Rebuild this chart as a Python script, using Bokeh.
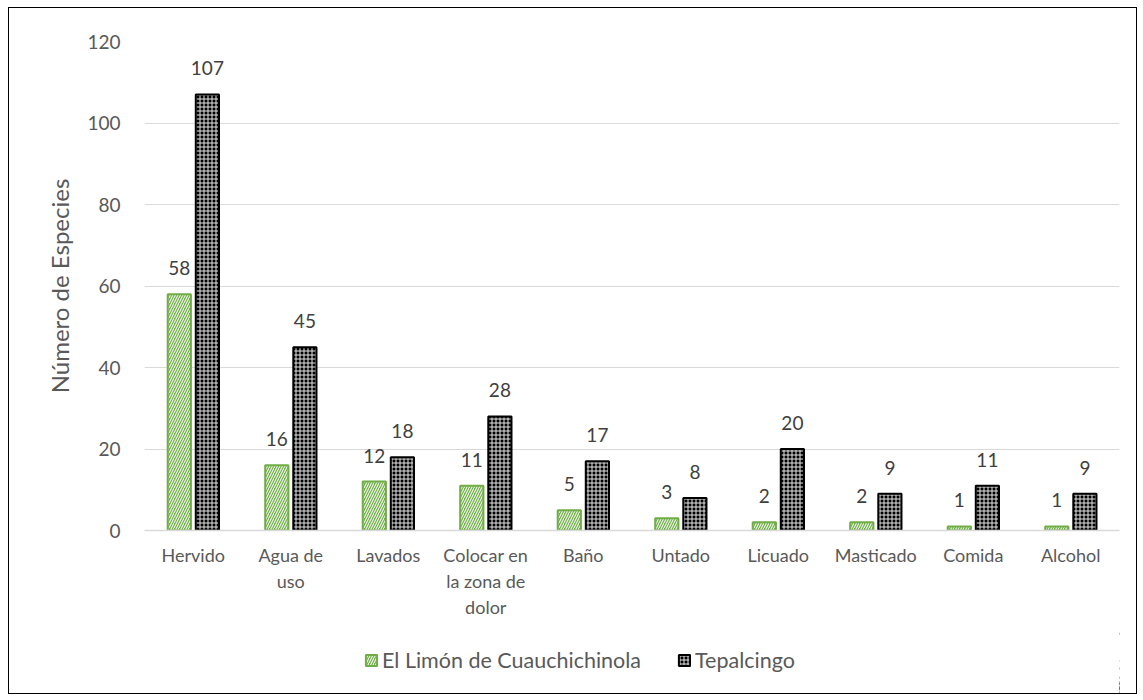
from bokeh.plotting import figure
from bokeh.models import ColumnDataSource, Legend, LegendItem, LabelSet, FactorRange, Range1d
from bokeh.layouts import column
from bokeh.core.properties import value
from bokeh.transform import dodge
from bokeh.embed import file_html
from bokeh.resources import INLINE

categories = ["Hervido", "Agua de\nuso", "Lavados", "Colocar en\nla zona de\ndolor", "Baño",
              "Untado", "Licuado", "Masticado", "Comida", "Alcohol"]
limon = [58, 16, 12, 11, 5, 3, 2, 2, 1, 1]
tepalcingo = [107, 45, 18, 28, 17, 8, 20, 9, 11, 9]
series_names = ["El Limón de Cuauchichinola", "Tepalcingo"]
y_ticks = [0, 20, 40, 60, 80, 100, 120]

FONT = "Lato"
GREEN = "#70AD47"
OFF_A, OFF_B, BW = -0.143, 0.145, 0.238

src = ColumnDataSource(dict(cat=categories, a=limon, b=tepalcingo,
                            la=[str(v) for v in limon], lb=[str(v) for v in tepalcingo]))

style_a = dict(fill_color=GREEN, line_color=GREEN, line_width=2,
               hatch_pattern="right_diagonal_line", hatch_color="white", hatch_alpha=0.85,
               hatch_scale=5, hatch_weight=1.2)
style_b = dict(fill_color="black", line_color="black", line_width=2,
               hatch_pattern="cross", hatch_color="#E6E6E6", hatch_alpha=1,
               hatch_scale=4, hatch_weight=1)

p = figure(x_range=FactorRange(*categories), y_range=Range1d(0, 120), width=1127, height=618,
           output_backend="svg", toolbar_location=None,
           min_border_left=135, min_border_right=17, min_border_top=33, min_border_bottom=96)
p.outline_line_color = None
p.x_range.range_padding = 0

p.vbar(x=dodge("cat", OFF_A, range=p.x_range), top="a", width=BW, source=src, **style_a)
p.vbar(x=dodge("cat", OFF_B, range=p.x_range), top="b", width=BW, source=src, **style_b)

for col, ycol, off in (("la", "a", OFF_A), ("lb", "b", OFF_B)):
    lab = LabelSet(x=dodge("cat", off, range=p.x_range), y=ycol,
                   text=col, source=src, text_align="center", text_baseline="bottom",
                   y_offset=19, text_font=value(FONT), text_font_size="19px", text_color="#404040")
    p.add_layout(lab)

p.yaxis.ticker = y_ticks
p.yaxis.axis_line_color = None
p.yaxis.major_tick_line_color = None
p.yaxis.minor_tick_line_color = None
p.yaxis.major_label_text_font = FONT
p.yaxis.major_label_text_font_size = "19px"
p.yaxis.major_label_text_color = "#595959"
p.yaxis.major_label_standoff = 18
p.yaxis.axis_label = "Número de Especies"
p.yaxis.axis_label_text_font = FONT
p.yaxis.axis_label_text_font_size = "24px"
p.yaxis.axis_label_text_font_style = "normal"
p.yaxis.axis_label_text_color = "#595959"
p.yaxis.axis_label_standoff = 10

p.xaxis.axis_line_color = "#D9D9D9"
p.xaxis.axis_line_width = 1.5
p.xaxis.major_tick_line_color = None
p.xaxis.minor_tick_line_color = None
p.xaxis.major_label_text_font = FONT
p.xaxis.major_label_text_font_size = "18px"
p.xaxis.major_label_text_color = "#595959"
p.xaxis.major_label_standoff = 7

p.xgrid.grid_line_color = None
p.ygrid.grid_line_color = "#D9D9D9"
p.ygrid.grid_line_width = 1.2

# legend strip: same series as zero-size marks placed outside the visible span,
# so only the legend entries show
lg = figure(x_range=FactorRange(*categories), y_range=Range1d(0, 120), width=1127, height=67,
            output_backend="svg", toolbar_location=None, x_axis_location=None, y_axis_location=None,
            min_border=0)
lg.outline_line_color = None
lg.grid.grid_line_color = None
la_r = lg.vbar(x=dodge("cat", 30, range=lg.x_range), top="a", bottom="a", width=0,
               source=src, **style_a)
lb_r = lg.vbar(x=dodge("cat", 30, range=lg.x_range), top="b", bottom="b", width=0,
               source=src, **style_b)
legend = Legend(items=[LegendItem(label=series_names[0], renderers=[la_r]),
                       LegendItem(label=series_names[1], renderers=[lb_r])],
                orientation="horizontal", location=(220, 20), border_line_color=None,
                background_fill_alpha=0,
                label_text_font=FONT, label_text_font_size="21.5px", label_text_color="#595959",
                glyph_width=14, glyph_height=14, spacing=36, label_standoff=4, padding=5, margin=0)
lg.add_layout(legend, "center")

layout = column(p, lg, spacing=0, margin=(7, 0, 0, 8),
                styles={"border": "1.5px solid black"})

open("out.html", "w").write(file_html(layout, INLINE))
